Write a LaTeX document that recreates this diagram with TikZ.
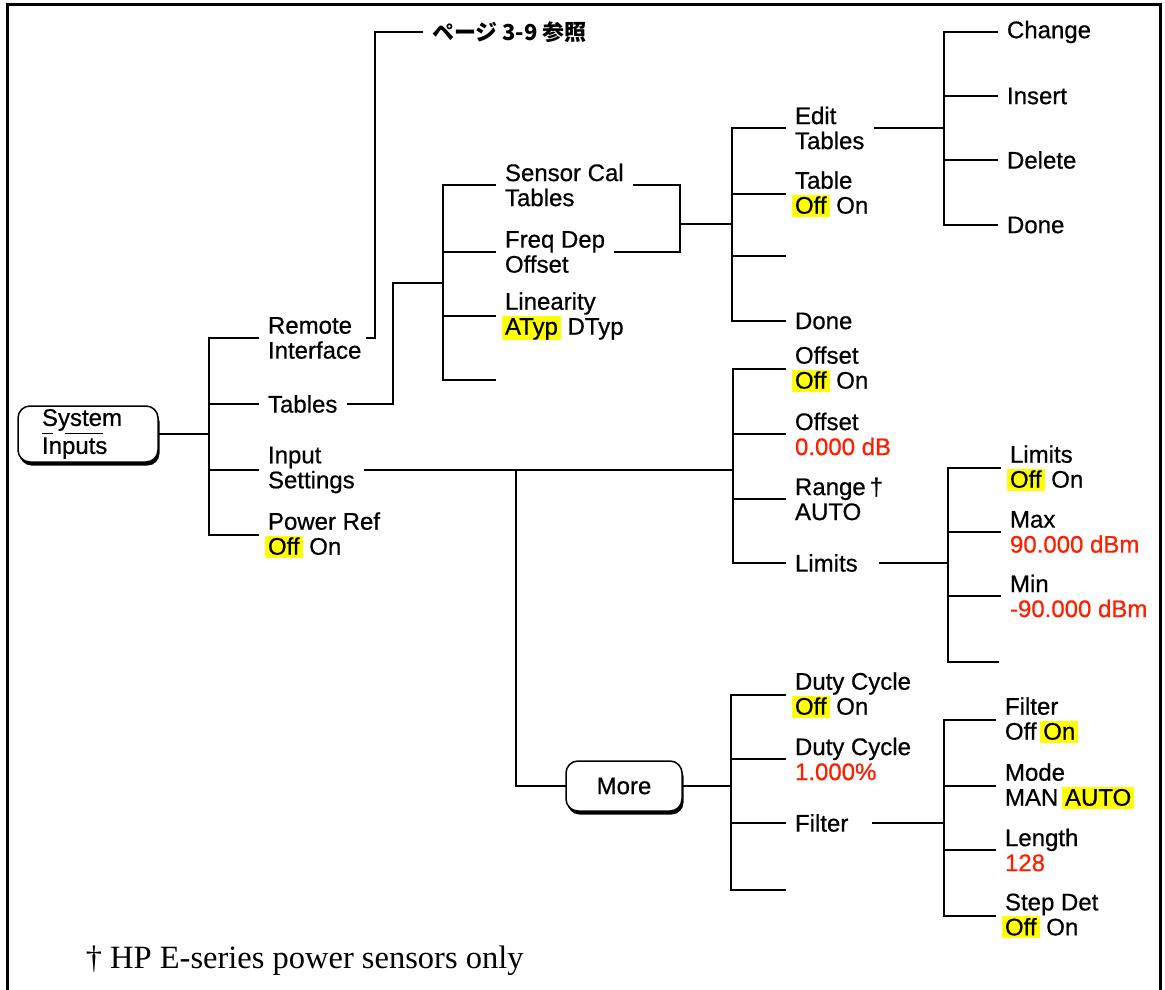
\documentclass[tikz,border=0pt]{standalone}
\usepackage{fontspec}
\setmainfont{Liberation Sans}[FakeBold=0.6]
\newfontfamily\serifnote{Liberation Serif}
\newfontfamily\jpfont{Noto Sans CJK JP}
\usepackage{tikz}
\usetikzlibrary{shadows}
\definecolor{hlyellow}{RGB}{255,255,0}
\definecolor{valred}{RGB}{255,30,0}
\newcommand{\hlt}[1]{{\setlength{\fboxsep}{0pt}\hspace*{-3pt}%
  \colorbox{hlyellow}{\rule[-3pt]{0pt}{22pt}\hspace{3pt}#1\hspace{3pt}}}}
\newcommand{\val}[1]{\textcolor{valred}{#1}}

\begin{document}
\begin{tikzpicture}[x=1pt, y=-1pt, line width=1.6pt, line cap=rect,
  item/.style={anchor=west, align=left, inner sep=0pt, outer xsep=10pt,
    font=\fontsize{24}{25}\selectfont},
  key/.style={draw, line width=1.5pt, rounded corners=12pt, fill=white,
    align=left, inner sep=0pt, font=\fontsize{24}{25}\selectfont,
    drop shadow={shadow xshift=1.5pt, shadow yshift=-3.5pt, opacity=1, fill=black}}]
  \useasboundingbox (0,0) rectangle (1165,990);
  \draw[line width=3pt, line cap=butt] (7,990) -- (7,5) -- (1160,5) -- (1160,990);
  % ---------- System Inputs ----------
  \node[key, minimum width=140, minimum height=56, text width=92,
    font=\fontsize{24}{28}\selectfont] (sys) at (88,434) {System\\Inputs};
  \draw[line width=1pt, line cap=butt] (42,433) -- (53,433) (65,433) -- (103,433);
  \node[item] (remote) at (258,338) {Remote\\Interface};
  \node[item] (tables) at (258,404) {Tables};
  \node[item] (input) at (258,470) {Input\\Settings};
  \node[item] (pref) at (258,535) {Power Ref\\\hlt{Off} On};
  \coordinate (b1) at (209,434);
  \draw (sys.east) -- (b1);
  \draw (b1 |- remote.west) -- (b1 |- pref.west);
  \foreach \n in {remote,tables,input,pref}
    \draw (b1 |- \n.west) -- (\n.west);
  % ---------- Remote Interface ----------
  \node[item, font=\jpfont\bfseries\fontsize{22}{22}\selectfont]
    (page) at (422,32) {ページ 3-9 参照};
  \coordinate (rv) at (375,338);
  \draw ([xshift=-5]remote.east) -- (rv) |- (page.west);
  % ---------- Tables ----------
  \coordinate (t1) at (393,283);
  \coordinate (b2) at (443,283);
  \draw (tables.east) -| (t1) -- (b2);
  \node[item] (scal) at (495,185) {Sensor Cal\\Tables};
  \node[item] (fdep) at (495,252) {Freq Dep\\Offset};
  \node[item] (lin) at (495,316) {Linearity\\\hlt{ATyp} DTyp};
  \coordinate (e2) at (495,380);
  \draw (b2 |- scal.west) -- (b2 |- e2);
  \foreach \n in {scal.west,fdep.west,lin.west,e2}
    \draw (b2 |- \n) -- (\n);
  % ---------- cal tables ----------
  \coordinate (j2) at (680,224);
  \coordinate (b3) at (732,224);
  \draw (scal.east) -| (j2) (fdep.east) -| (j2) -- (b3);
  \node[item] (edit) at (785,128) {Edit\\Tables};
  \node[item] (table) at (785,194) {Table\\\hlt{Off} On};
  \coordinate (e3) at (785,256);
  \node[item] (done1) at (785,321) {Done};
  \draw (b3 |- edit.west) -- (b3 |- done1.west);
  \foreach \n in {edit.west,table.west,e3,done1.west}
    \draw (b3 |- \n) -- (\n);
  % ---------- Edit Tables ----------
  \coordinate (b4) at (944,128);
  \draw (edit.east) -- (b4);
  \node[item] (change) at (997,32) {Change};
  \node[item] (insert) at (997,96) {Insert};
  \node[item] (delete) at (997,160) {Delete};
  \node[item] (done2) at (997,225) {Done};
  \draw (b4 |- change.west) -- (b4 |- done2.west);
  \foreach \n in {change,insert,delete,done2}
    \draw (b4 |- \n.west) -- (\n.west);
  % ---------- Input Settings ----------
  \coordinate (m1) at (516,470);
  \coordinate (b5) at (733,470);
  \draw (input.east) -- (b5);
  \node[item] (offon) at (785,369) {Offset\\\hlt{Off} On};
  \node[item] (offdb) at (785,434) {Offset\\\val{0.000 dB}};
  \node[item] (range) at (785,499) {Range\,†\\AUTO};
  \node[item] (limits) at (785,563) {Limits};
  \draw (b5 |- offon.west) -- (b5 |- limits.west);
  \foreach \n in {offon,offdb,range,limits}
    \draw (b5 |- \n.west) -- (\n.west);
  % ---------- Limits ----------
  \coordinate (b6) at (948,563);
  \draw ([xshift=12]limits.east) -- (b6);
  \node[item] (limon) at (1000,468) {Limits\\\hlt{Off} On};
  \node[item] (max) at (1000,532) {Max\\\val{90.000 dBm}};
  \node[item] (min) at (1000,596) {Min\\\val{-90.000 dBm}};
  \coordinate (e6) at (998,662);
  \draw (b6 |- limon.west) -- (b6 |- e6);
  \foreach \n in {limon.west,max.west,min.west,e6}
    \draw (b6 |- \n) -- (\n);
  % ---------- More ----------
  \node[key, minimum width=116, minimum height=50] (more) at (624,786) {More};
  \draw (m1) |- (more.west);
  \coordinate (b7) at (731,786);
  \draw (more.east) -- (b7);
  \node[item] (duty) at (785,695) {Duty Cycle\\\hlt{Off} On};
  \node[item] (dutyv) at (785,759) {Duty Cycle\\\val{1.000\%}};
  \node[item] (filter) at (785,823) {Filter};
  \coordinate (e7) at (785,890);
  \draw (b7 |- duty.west) -- (b7 |- e7);
  \foreach \n in {duty.west,dutyv.west,filter.west,e7}
    \draw (b7 |- \n) -- (\n);
  % ---------- Filter ----------
  \coordinate (b8) at (944,823);
  \draw ([xshift=14]filter.east) -- (b8);
  \node[item] (fon) at (995,720) {Filter\\Off \hlt{On}};
  \node[item] (mode) at (995,786) {Mode\\MAN \hlt{AUTO}};
  \node[item] (length) at (995,850) {Length\\\val{128}};
  \node[item] (step) at (995,916) {Step Det\\\hlt{Off} On};
  \draw (b8 |- fon.west) -- (b8 |- step.west);
  \foreach \n in {fon,mode,length,step}
    \draw (b8 |- \n.west) -- (\n.west);
  % footnote
  \node[anchor=west, inner sep=0pt, font=\serifnote\fontsize{32.5}{32.5}\selectfont]
    (note) at (85,961) {† HP E-series power sensors only};
\end{tikzpicture}
\end{document}
